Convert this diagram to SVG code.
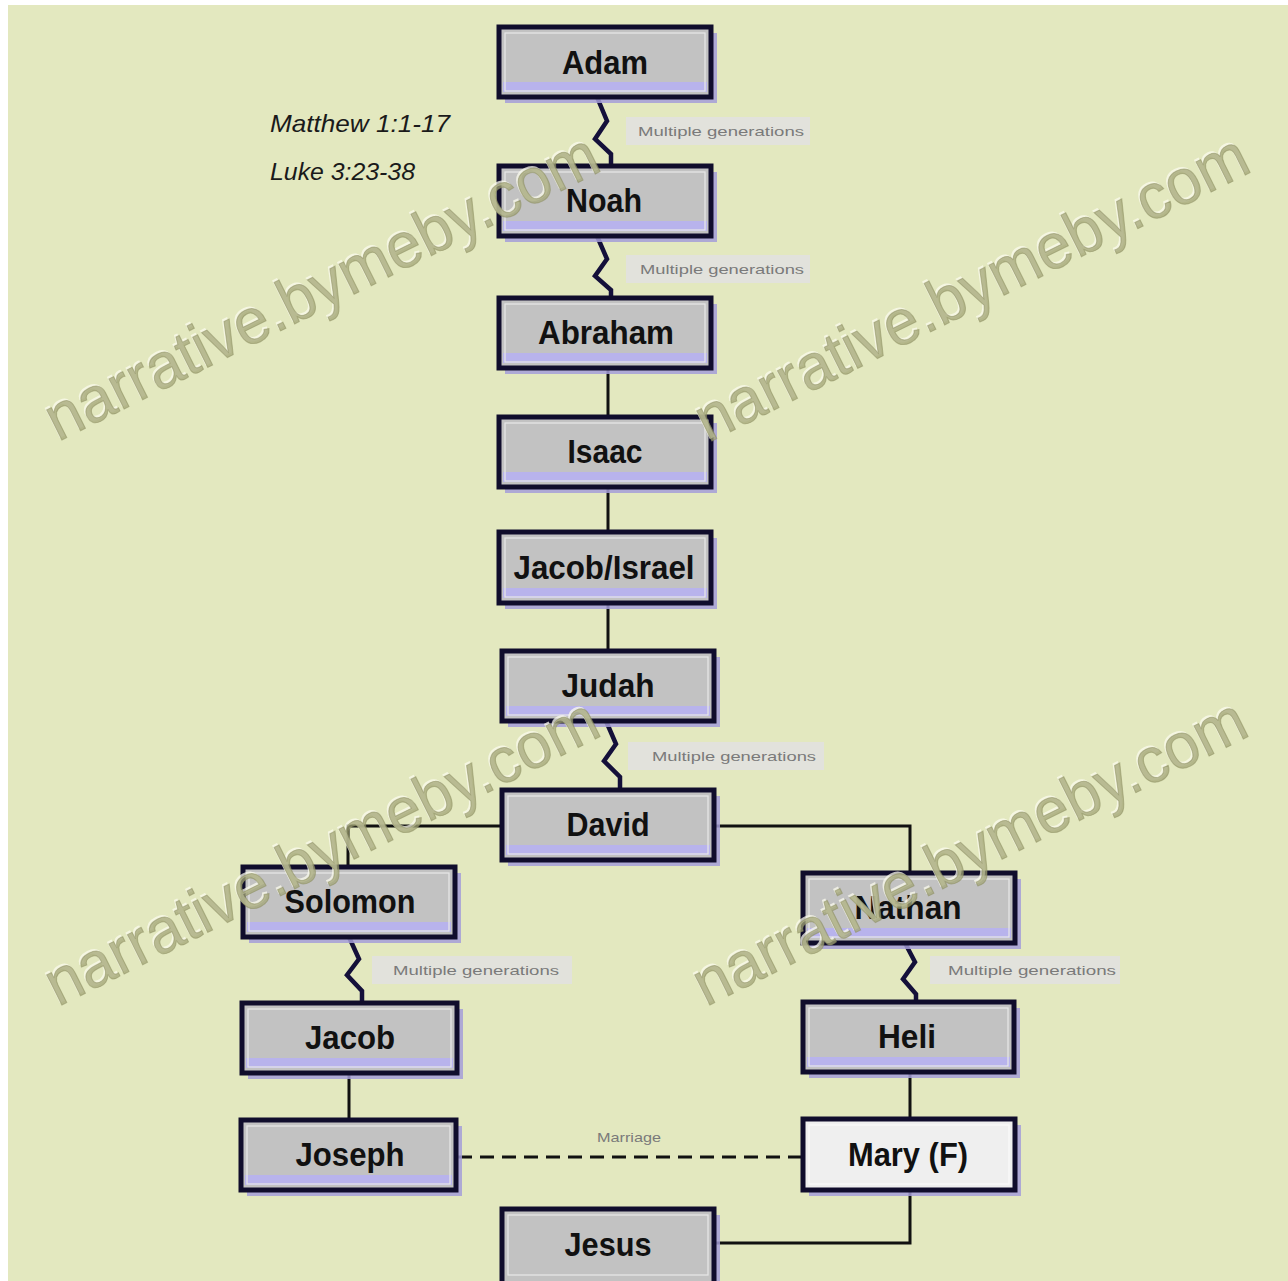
<svg xmlns="http://www.w3.org/2000/svg" width="1288" height="1281" viewBox="0 0 1288 1281">
<style>
.sh{fill:#a49ed8;opacity:.85}
.box{fill:#c2c2c2;stroke:#100d2c;stroke-width:5}
.mary{fill:#efefef;stroke:#100d2c;stroke-width:5}
.band{fill:#b8b3ec}
.hl{fill:none;stroke:#e8e8e8;stroke-width:1.2}
.nt{font-family:"Liberation Sans",Arial,sans-serif;font-weight:bold;font-size:34px;fill:#111;text-anchor:middle}
.ln{fill:none;stroke:#111;stroke-width:3}
.zz{fill:none;stroke:#14103a;stroke-width:4.5;stroke-linejoin:miter}
.lb{font-family:"Liberation Sans",Arial,sans-serif;font-size:13px;fill:#7a7a7a}
.lbg{fill:#e2e2dc}
.ref{font-family:"Liberation Sans",Arial,sans-serif;font-style:italic;font-size:24px;fill:#1a1a1a}
.wmh{font-family:"Liberation Sans",Arial,sans-serif;font-size:64px;fill:#fbfbee;fill-opacity:.75}
.wm{font-family:"Liberation Sans",Arial,sans-serif;font-size:64px;fill:#a3a577;fill-opacity:.75;stroke:#8a8c5e;stroke-opacity:.5;stroke-width:1}
</style>
<defs>
  <text id="wmtext" textLength="610" lengthAdjust="spacingAndGlyphs">narrative.bymeby.com</text>
</defs>
<rect x="0" y="0" width="1288" height="1281" fill="#ffffff"/>
<rect x="8" y="5" width="1280" height="1276" fill="#e3e8bf"/>

<text class="ref" x="270" y="132" textLength="180" lengthAdjust="spacingAndGlyphs">Matthew 1:1-17</text>
<text class="ref" x="270" y="180" textLength="145" lengthAdjust="spacingAndGlyphs">Luke 3:23-38</text>

<g id="connectors">
  <rect class="lbg" x="626" y="117" width="184" height="28"/>
  <text class="lb" x="638" y="136" textLength="166" lengthAdjust="spacingAndGlyphs">Multiple generations</text>
  <rect class="lbg" x="626" y="255" width="184" height="28"/>
  <text class="lb" x="640" y="274" textLength="164" lengthAdjust="spacingAndGlyphs">Multiple generations</text>
  <rect class="lbg" x="628" y="742" width="196" height="28"/>
  <text class="lb" x="652" y="761" textLength="164" lengthAdjust="spacingAndGlyphs">Multiple generations</text>
  <rect class="lbg" x="372" y="956" width="200" height="28"/>
  <text class="lb" x="393" y="975" textLength="166" lengthAdjust="spacingAndGlyphs">Multiple generations</text>
  <rect class="lbg" x="930" y="956" width="190" height="28"/>
  <text class="lb" x="948" y="975" textLength="168" lengthAdjust="spacingAndGlyphs">Multiple generations</text>
  <text class="lb" x="597" y="1142" textLength="64" lengthAdjust="spacingAndGlyphs">Marriage</text>

  <path class="zz" d="M597,97 L607,121 L595,139 L611,154 L611,166"/>
  <path class="zz" d="M597,236 L607,259 L595,276 L611,290 L611,298"/>
  <path class="zz" d="M606,721 L616,744 L604,761 L620,777 L620,790"/>
  <path class="zz" d="M349,937 L359,959 L347,975 L362,991 L362,1003"/>
  <path class="zz" d="M905,943 L915,962 L903,979 L916,994 L916,1002"/>

  <path class="ln" d="M608,368 V417"/>
  <path class="ln" d="M608,487 V532"/>
  <path class="ln" d="M608,603 V651"/>
  <path class="ln" d="M502,826 H348 V867"/>
  <path class="ln" d="M714,826 H910 V873"/>
  <path class="ln" d="M349,1073 V1120"/>
  <path class="ln" d="M910,1072 V1119"/>
  <path class="ln" d="M458,1157 H803" stroke-dasharray="14 8"/>
  <path class="ln" d="M910,1190 V1243 H714"/>
</g>

<g id="adam"><rect class="sh" x="505" y="33" width="212" height="70"/><rect class="box" x="499" y="27" width="212" height="70"/><rect class="band" x="503" y="82" width="204" height="10"/><rect class="hl" x="505" y="33" width="200" height="58"/><text class="nt" x="605" y="74" textLength="86" lengthAdjust="spacingAndGlyphs">Adam</text></g>
<g id="noah"><rect class="sh" x="505" y="172" width="212" height="70"/><rect class="box" x="499" y="166" width="212" height="70"/><rect class="band" x="503" y="221" width="204" height="10"/><rect class="hl" x="505" y="172" width="200" height="58"/><text class="nt" x="604" y="212" textLength="76" lengthAdjust="spacingAndGlyphs">Noah</text></g>
<g id="abraham"><rect class="sh" x="505" y="304" width="212" height="70"/><rect class="box" x="499" y="298" width="212" height="70"/><rect class="band" x="503" y="353" width="204" height="10"/><rect class="hl" x="505" y="304" width="200" height="58"/><text class="nt" x="606" y="344" textLength="136" lengthAdjust="spacingAndGlyphs">Abraham</text></g>
<g id="isaac"><rect class="sh" x="505" y="423" width="212" height="70"/><rect class="box" x="499" y="417" width="212" height="70"/><rect class="band" x="503" y="472" width="204" height="10"/><rect class="hl" x="505" y="423" width="200" height="58"/><text class="nt" x="605" y="463" textLength="75" lengthAdjust="spacingAndGlyphs">Isaac</text></g>
<g id="jacob-israel"><rect class="sh" x="505" y="538" width="212" height="71"/><rect class="box" x="499" y="532" width="212" height="71"/><rect class="band" x="503" y="588" width="204" height="10"/><rect class="hl" x="505" y="538" width="200" height="59"/><text class="nt" x="604" y="579" textLength="181" lengthAdjust="spacingAndGlyphs">Jacob/Israel</text></g>
<g id="judah"><rect class="sh" x="508" y="657" width="212" height="70"/><rect class="box" x="502" y="651" width="212" height="70"/><rect class="band" x="506" y="706" width="204" height="10"/><rect class="hl" x="508" y="657" width="200" height="58"/><text class="nt" x="608" y="697" textLength="93" lengthAdjust="spacingAndGlyphs">Judah</text></g>
<g id="david"><rect class="sh" x="508" y="796" width="212" height="70"/><rect class="box" x="502" y="790" width="212" height="70"/><rect class="band" x="506" y="845" width="204" height="10"/><rect class="hl" x="508" y="796" width="200" height="58"/><text class="nt" x="608" y="836" textLength="83" lengthAdjust="spacingAndGlyphs">David</text></g>
<g id="solomon"><rect class="sh" x="249" y="873" width="212" height="70"/><rect class="box" x="243" y="867" width="212" height="70"/><rect class="band" x="247" y="922" width="204" height="10"/><rect class="hl" x="249" y="873" width="200" height="58"/><text class="nt" x="350" y="913" textLength="131" lengthAdjust="spacingAndGlyphs">Solomon</text></g>
<g id="nathan"><rect class="sh" x="809" y="879" width="212" height="70"/><rect class="box" x="803" y="873" width="212" height="70"/><rect class="band" x="807" y="928" width="204" height="10"/><rect class="hl" x="809" y="879" width="200" height="58"/><text class="nt" x="908" y="919" textLength="107" lengthAdjust="spacingAndGlyphs">Nathan</text></g>
<g id="jacob"><rect class="sh" x="248" y="1009" width="215" height="70"/><rect class="box" x="242" y="1003" width="215" height="70"/><rect class="band" x="246" y="1058" width="207" height="10"/><rect class="hl" x="248" y="1009" width="203" height="58"/><text class="nt" x="350" y="1049" textLength="90" lengthAdjust="spacingAndGlyphs">Jacob</text></g>
<g id="heli"><rect class="sh" x="809" y="1008" width="211" height="70"/><rect class="box" x="803" y="1002" width="211" height="70"/><rect class="band" x="807" y="1057" width="203" height="10"/><rect class="hl" x="809" y="1008" width="199" height="58"/><text class="nt" x="907" y="1048" textLength="58" lengthAdjust="spacingAndGlyphs">Heli</text></g>
<g id="joseph"><rect class="sh" x="247" y="1126" width="215" height="70"/><rect class="box" x="241" y="1120" width="215" height="70"/><rect class="band" x="245" y="1175" width="207" height="10"/><rect class="hl" x="247" y="1126" width="203" height="58"/><text class="nt" x="350" y="1166" textLength="109" lengthAdjust="spacingAndGlyphs">Joseph</text></g>
<g id="mary"><rect class="sh" x="809" y="1125" width="212" height="71"/><rect class="mary" x="803" y="1119" width="212" height="71"/><rect class="hl" x="809" y="1125" width="200" height="59" style="stroke:#fafafa"/><text class="nt" x="908" y="1166" textLength="120" lengthAdjust="spacingAndGlyphs">Mary (F)</text></g>
<g id="jesus"><rect class="sh" x="508" y="1215" width="212" height="80"/><rect class="box" x="502" y="1209" width="212" height="80"/><rect class="hl" x="508" y="1215" width="200" height="60"/><text class="nt" x="608" y="1256" textLength="87" lengthAdjust="spacingAndGlyphs">Jesus</text></g>

<g id="watermarks">
  <use href="#wmtext" class="wmh" transform="translate(56,440) rotate(-26.5)"/>
  <use href="#wmtext" class="wm" transform="translate(58,442) rotate(-26.5)"/>
  <use href="#wmtext" class="wmh" transform="translate(706,441) rotate(-26.5)"/>
  <use href="#wmtext" class="wm" transform="translate(708,443) rotate(-26.5)"/>
  <use href="#wmtext" class="wmh" transform="translate(56,1005) rotate(-26.5)"/>
  <use href="#wmtext" class="wm" transform="translate(58,1007) rotate(-26.5)"/>
  <use href="#wmtext" class="wmh" transform="translate(704,1005) rotate(-26.5)"/>
  <use href="#wmtext" class="wm" transform="translate(706,1007) rotate(-26.5)"/>
</g>
</svg>
